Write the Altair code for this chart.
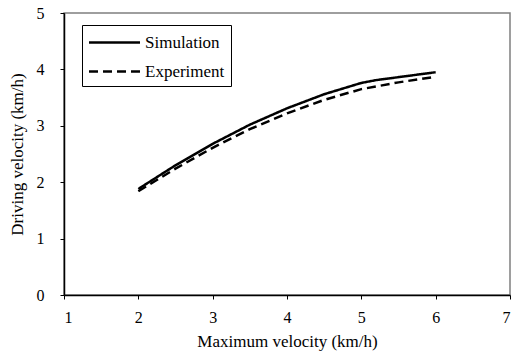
import altair as alt
import pandas as pd

sim_x = [2, 2.5, 3, 3.5, 4, 4.5, 5, 5.2, 5.6, 6]
sim_y = [1.88, 2.30, 2.68, 3.02, 3.31, 3.56, 3.76, 3.81, 3.88, 3.95]
exp_x = [2, 2.5, 3, 3.5, 4, 4.5, 5, 5.5, 6]
exp_y = [1.84, 2.24, 2.61, 2.94, 3.22, 3.46, 3.65, 3.77, 3.87]
series = ["Simulation", "Experiment"]

df = pd.concat([
    pd.DataFrame({"x": sim_x, "y": sim_y, "s": series[0]}),
    pd.DataFrame({"x": exp_x, "y": exp_y, "s": series[1]}),
])

font = "'Liberation Serif', 'DejaVu Serif', serif"

chart = alt.Chart(df).mark_line(strokeWidth=2.5, color="black").encode(
    x=alt.X("x:Q", scale=alt.Scale(domain=[1, 7], nice=False, zero=False),
            axis=alt.Axis(title="Maximum velocity (km/h)", values=[1, 2, 3, 4, 5, 6, 7],
                          format="d", grid=False, domainColor="black", tickColor="black",
                          tickSize=4, labelPadding=10, titlePadding=8)),
    y=alt.Y("y:Q", scale=alt.Scale(domain=[0, 5], nice=False),
            axis=alt.Axis(title="Driving velocity (km/h)", values=[0, 1, 2, 3, 4, 5],
                          format="d", grid=False, domainColor="black", tickColor="black",
                          tickSize=4, labelPadding=16, titlePadding=10)),
    strokeDash=alt.StrokeDash("s:N", scale=alt.Scale(domain=series, range=[[1, 0], [9, 5]]),
                              legend=alt.Legend(title=None, orient="none", legendX=18, legendY=12,
                                                symbolType="M-2.5,0H2.5", symbolSize=416,
                                                symbolStrokeWidth=2.5, symbolStrokeColor="black",
                                                strokeColor="black", padding=6,
                                                symbolOffset=15,
                                                rowPadding=9, labelFontSize=17,
                                                labelFont=font, labelColor="black",
                                                labelOffset=19)),
    detail="s:N",
).properties(
    width=446, height=282,
    padding={"left": 64, "top": 13, "right": 12, "bottom": 60},
    autosize=alt.AutoSizeParams(type="none"),
).configure(
    font=font
).configure_view(
    stroke="#7f7f7f", strokeWidth=1.5
).configure_axis(
    labelFont=font, titleFont=font, labelFontSize=16, titleFontSize=17,
    labelColor="black", titleColor="black", titleFontWeight="normal", domainWidth=1.5,
)

chart.save("out.html", embed_options={"renderer": "svg", "actions": False})
